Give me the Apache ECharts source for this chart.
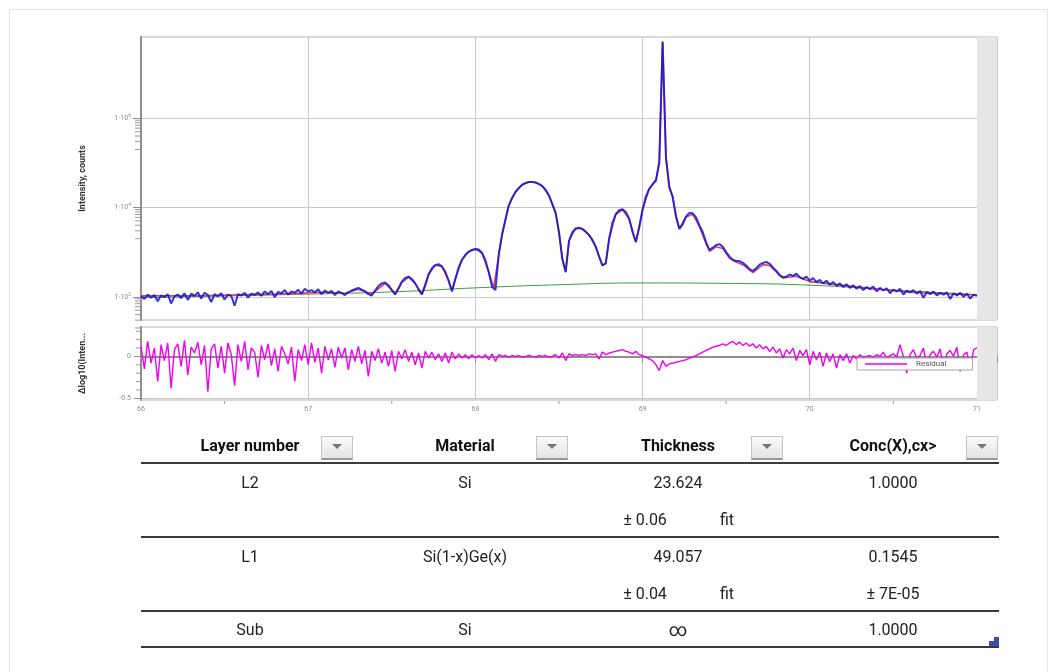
<!DOCTYPE html>
<html>
<head>
<meta charset="utf-8">
<script src="https://cdn.jsdelivr.net/npm/echarts@6/dist/echarts.min.js"></script>
<style>
html, body { margin: 0; padding: 0; background: #fff; }
#frame { position: absolute; left: 9px; top: 9px; width: 1037px; height: 680px; border: 1px solid #e4e4e4; }
#chart { position: absolute; left: 0; top: 0; width: 1055px; height: 672px; }
.cell { position: absolute; font-family: Roboto, 'Noto Sans', sans-serif; font-size: 16px; color: #222; transform: translate(-50%, -50%); white-space: nowrap; }
.head { font-weight: bold; color: #111; }
.rule { position: absolute; left: 141px; width: 858px; height: 2px; background: #3a3a3a; }
.btn { position: absolute; top: 436px; width: 32px; height: 24px; box-sizing: border-box; border: 1px solid #c4c4c4; border-bottom: 2px solid #9a9a9a; background: linear-gradient(#fbfbfb, #e4e4e4); }
.btn:after { content: ''; position: absolute; left: 10px; top: 7px; border-left: 5px solid transparent; border-right: 5px solid transparent; border-top: 5px solid #777; }
.grip { position: absolute; background: #3b4fa8; }
</style>
</head>
<body>
<div id="frame"></div>
<div id="chart"></div>

<div class="cell head" style="left:250px;top:445px">Layer number</div>
<div class="btn" style="left:321px"></div>
<div class="cell head" style="left:465px;top:445px">Material</div>
<div class="btn" style="left:536px"></div>
<div class="cell head" style="left:678px;top:445px">Thickness</div>
<div class="btn" style="left:751px"></div>
<div class="cell head" style="left:893px;top:445px">Conc(X),cx&gt;</div>
<div class="btn" style="left:966px"></div>
<div class="rule" style="top:462px"></div>

<div class="cell" style="left:250px;top:482px">L2</div>
<div class="cell" style="left:465px;top:482px">Si</div>
<div class="cell" style="left:678px;top:482px">23.624</div>
<div class="cell" style="left:893px;top:482px">1.0000</div>
<div class="cell" style="left:645px;top:519px">± 0.06</div>
<div class="cell" style="left:727px;top:519px">fit</div>
<div class="rule" style="top:536px"></div>

<div class="cell" style="left:250px;top:556px">L1</div>
<div class="cell" style="left:465px;top:556px">Si(1-x)Ge(x)</div>
<div class="cell" style="left:678px;top:556px">49.057</div>
<div class="cell" style="left:893px;top:556px">0.1545</div>
<div class="cell" style="left:645px;top:593px">± 0.04</div>
<div class="cell" style="left:727px;top:593px">fit</div>
<div class="cell" style="left:893px;top:593px">± 7E-05</div>
<div class="rule" style="top:610px"></div>

<div class="cell" style="left:250px;top:629px">Sub</div>
<div class="cell" style="left:465px;top:629px">Si</div>
<div class="cell" style="left:678px;top:629px;font-size:18px">∞</div>
<div class="cell" style="left:893px;top:629px">1.0000</div>
<div class="rule" style="top:646px"></div>
<div class="grip" style="left:994px;top:637px;width:5px;height:9px"></div>
<div class="grip" style="left:989px;top:641px;width:10px;height:5px"></div>

<script>
// 2theta scan grid (degrees)
const thetaStart = 66;
const thetaStep = 0.02;

// measured intensity, log10(counts), one value per grid step 66.00 .. 71.00
const measuredLog = [
    2.02, 1.95, 2.05, 1.98, 2.04, 1.90, 2.03, 1.99, 2.06, 1.85,
    2.01, 2.05, 1.97, 2.08, 1.93, 2.07, 2.02, 2.10, 1.96, 2.09,
    2.04, 1.88, 2.06, 2.01, 2.08, 1.94, 2.05, 2.02, 1.80, 2.06,
    2.03, 2.09, 1.98, 2.07, 2.04, 2.10, 2.02, 2.12, 2.06, 2.13,
    1.99, 2.11, 2.08, 2.15, 2.05, 2.12, 2.09, 2.16, 2.07, 2.18,
    2.12, 2.15, 2.10, 2.17, 2.06, 2.14, 2.09, 2.13, 2.04, 2.12,
    2.08, 2.04, 2.10, 2.14, 2.17, 2.20, 2.16, 2.12, 2.06, 2.03,
    2.14, 2.24, 2.30, 2.32, 2.26, 2.15, 2.05, 2.18, 2.34, 2.42,
    2.45, 2.40, 2.30, 2.16, 2.05, 2.25, 2.50, 2.64, 2.71, 2.73,
    2.68, 2.56, 2.36, 2.12, 2.40, 2.66, 2.83, 2.94, 3.01, 3.05,
    3.07, 3.06, 2.98, 2.82, 2.55, 2.22, 2.15, 2.95, 3.40, 3.73,
    4.05, 4.22, 4.35, 4.44, 4.51, 4.55, 4.57, 4.57, 4.56, 4.53,
    4.48, 4.40, 4.27, 4.08, 3.88, 3.45, 2.85, 2.55, 3.25, 3.45,
    3.53, 3.55, 3.52, 3.46, 3.38, 3.28, 3.12, 2.90, 2.70, 2.75,
    3.30, 3.66, 3.85, 3.94, 3.96, 3.90, 3.75, 3.45, 3.23, 3.55,
    3.95, 4.25, 4.42, 4.52, 4.60, 5.00, 7.72, 5.10, 4.45, 4.24,
    3.80, 3.52, 3.62, 3.80, 3.88, 3.87, 3.78, 3.60, 3.45, 3.22,
    3.05, 3.10, 3.16, 3.18, 3.12, 3.00, 2.90, 2.83, 2.80, 2.80,
    2.76, 2.70, 2.62, 2.58, 2.64, 2.72, 2.76, 2.78, 2.74, 2.66,
    2.58, 2.48, 2.44, 2.45, 2.50, 2.47, 2.52, 2.44, 2.40, 2.45,
    2.36, 2.42, 2.33, 2.38, 2.30, 2.36, 2.27, 2.33, 2.25, 2.30,
    2.22, 2.28, 2.20, 2.26, 2.18, 2.24, 2.15, 2.22, 2.17, 2.23,
    2.12, 2.20, 2.14, 2.19, 2.08, 2.16, 2.12, 2.18, 2.05, 2.14,
    2.10, 2.15, 2.07, 2.13, 1.98, 2.11, 2.06, 2.12, 2.03, 2.09,
    2.05, 2.10, 1.95, 2.08, 2.03, 2.09, 2.00, 2.07, 1.96, 2.05,
    2.02
];

// residual, delta log10(intensity), same grid
const residual = [
    0.12, -0.15, 0.18, -0.08, 0.10, -0.30, 0.14, -0.05, 0.16, -0.38,
    0.08, 0.15, -0.12, 0.19, -0.22, 0.11, 0.04, 0.17, -0.10, 0.13,
    -0.42, 0.09, 0.15, -0.14, 0.12, -0.20, 0.16, 0.02, -0.35, 0.14,
    -0.06, 0.18, -0.16, 0.10, 0.05, -0.25, 0.13, -0.04, 0.15, -0.11,
    0.09, -0.18, 0.12, 0.03, -0.09, 0.11, -0.30, 0.08, -0.05, 0.14,
    -0.10, 0.16, -0.07, 0.10, -0.20, 0.12, -0.04, 0.09, -0.13, 0.11,
    -0.02, 0.10, -0.16, 0.08, -0.06, 0.12, -0.09, 0.07, -0.24, 0.06,
    -0.05, 0.09, -0.08, 0.05, -0.12, 0.07, -0.18, 0.06, -0.03, 0.08,
    -0.06, 0.05, -0.10, 0.04, -0.14, 0.06, -0.02, 0.05, -0.04, 0.03,
    -0.06, 0.04, -0.08, 0.05, -0.03, 0.03, -0.02, 0.02, -0.03, 0.02,
    -0.02, 0.01, -0.02, 0.02, -0.04, 0.03, -0.06, 0.02, 0.00, 0.01,
    -0.01, 0.01, 0.00, 0.01, -0.01, 0.00, 0.01, 0.00, -0.01, 0.01,
    0.00, 0.01, -0.01, 0.00, 0.02, -0.02, 0.04, -0.05, 0.03, 0.01,
    0.02, 0.01, 0.02, 0.01, 0.03, 0.02, 0.03, -0.03, 0.05, 0.02,
    0.04, 0.05, 0.06, 0.07, 0.08, 0.06, 0.05, 0.03, 0.06, 0.02,
    0.01, -0.01, -0.03, -0.05, -0.10, -0.17, -0.05, -0.12, -0.09, -0.08,
    -0.07, -0.06, -0.05, -0.04, -0.02, -0.01, 0.01, 0.03, 0.05, 0.07,
    0.09, 0.11, 0.12, 0.13, 0.15, 0.13, 0.16, 0.18, 0.14, 0.17,
    0.13, 0.16, 0.12, 0.15, 0.10, 0.14, 0.09, 0.12, 0.06, 0.11,
    0.04, 0.09, -0.02, 0.08, 0.03, 0.10, -0.05, 0.07, 0.01, 0.08,
    -0.10, 0.06, -0.04, 0.05, -0.12, 0.04, -0.06, 0.03, -0.14, 0.02,
    -0.05, 0.03, -0.08, 0.01, -0.03, 0.02, -0.01, 0.00, 0.01, -0.01,
    0.02, 0.00, 0.05, -0.02, 0.01, 0.03, -0.01, 0.14, 0.00, -0.20,
    0.02, 0.08, -0.02, 0.01, 0.10, -0.12, 0.02, 0.06, -0.01, 0.09,
    -0.15, 0.03, 0.07, 0.00, 0.11, -0.18, 0.02, 0.05, -0.16, 0.08,
    0.10
];

// simulated (fit) curve, [2theta, log10(counts)]
const fitLog = [
    [66.0, 2.02], [66.4, 2.03], [66.8, 2.06], [67.1, 2.10], [67.22, 2.08], [67.30, 2.17],
    [67.38, 2.06], [67.46, 2.30], [67.52, 2.08], [67.56, 2.32], [67.60, 2.44], [67.64, 2.30],
    [67.68, 2.07], [67.72, 2.50], [67.76, 2.71], [67.80, 2.68], [67.84, 2.36], [67.86, 2.14],
    [67.88, 2.40], [67.92, 2.83], [67.96, 3.01], [68.00, 3.07], [68.04, 2.98], [68.08, 2.55],
    [68.11, 2.20], [68.14, 2.95], [68.16, 3.40], [68.18, 3.73], [68.20, 4.05], [68.24, 4.35],
    [68.28, 4.51], [68.32, 4.57], [68.36, 4.56], [68.40, 4.48], [68.44, 4.27], [68.48, 3.88],
    [68.50, 3.45], [68.52, 2.85], [68.54, 2.56], [68.56, 3.25], [68.60, 3.53], [68.64, 3.52],
    [68.68, 3.38], [68.72, 3.12], [68.76, 2.70], [68.78, 2.76], [68.80, 3.30], [68.84, 3.85],
    [68.88, 3.95], [68.92, 3.74], [68.96, 3.22], [69.00, 3.95], [69.04, 4.42], [69.08, 4.62],
    [69.10, 5.05], [69.12, 7.70], [69.14, 5.15], [69.16, 4.47], [69.18, 4.24], [69.20, 3.80],
    [69.22, 3.53], [69.26, 3.79], [69.30, 3.85], [69.34, 3.57], [69.38, 3.19], [69.40, 3.02],
    [69.44, 3.12], [69.48, 3.08], [69.52, 2.86], [69.56, 2.78], [69.60, 2.72], [69.66, 2.54],
    [69.72, 2.72], [69.76, 2.70], [69.84, 2.42], [69.92, 2.46], [70.0, 2.34], [70.3, 2.21],
    [70.6, 2.10], [71.0, 2.04]
];

// background, [2theta, log10(counts)]
const backgroundLog = [
    [66.0, 1.98], [66.5, 2.02], [67.0, 2.06], [67.5, 2.11], [68.0, 2.20], [68.5, 2.27],
    [69.0, 2.31], [69.5, 2.30], [70.0, 2.26], [70.5, 2.15], [71.0, 2.05]
];

const thetaTicks = [66, 67, 68, 69, 70, 71];
const thetaHalfTicks = [66.5, 67.5, 68.5, 69.5, 70.5];
const decadeTicks = [2, 4, 6];
const residualTicks = [-0.5, 0];
const residualMinorTicks = [-0.4, -0.3, -0.2, -0.1, 0.1, 0.2, 0.3];

// minor ticks of the log axis: one decade under each labelled decade
const decadeMinorTicks = [];
decadeTicks.forEach(d => {
    for (let k = 2; k <= 9; k++) decadeMinorTicks.push(d - 1 + Math.log10(k));
});

const onGrid = arr => arr.map((v, i) => [+(thetaStart + i * thetaStep).toFixed(2), v]);

const chart = echarts.init(document.getElementById('chart'));

const labelGrey = '#8c8c8c';
const gridGrey = '#c9c9c9';
const axisGrey = '#8f8f8f';
const X_MIN = 66, X_MAX = 71.12;
const Y_MIN = 1.48, Y_MAX = 7.82;
const R_MIN = -0.52, R_MAX = 0.35;
const shade = {
    silent: true,
    itemStyle: { color: '#e7e7e7' },
    data: [[{ xAxis: 71 }, { xAxis: X_MAX }]]
};

// short tick marks placed through the axes' own scale
function tickSeries(xi, yi, values, vertical, len) {
    return {
        type: 'custom', xAxisIndex: xi, yAxisIndex: yi, silent: true, clip: false,
        data: values.map(v => [v]),
        renderItem: (params, api) => {
            const v = api.value(0);
            const p = vertical ? api.coord([v, yi === 0 ? Y_MIN : R_MIN]) : api.coord([X_MIN, v]);
            const shape = vertical
                ? { x1: p[0], y1: p[1] + 1, x2: p[0], y2: p[1] + 1 + len }
                : { x1: p[0] - 1 - len, y1: p[1], x2: p[0] - 1, y2: p[1] };
            return { type: 'line', shape: shape, style: { stroke: '#9a9a9a', lineWidth: 1 } };
        }
    };
}

const option = {
    animation: false,
    grid: [
        { left: 141, top: 37, width: 856, height: 283, show: true, borderColor: '#b4b4b4', backgroundColor: '#fff' },
        { left: 141, top: 327, width: 856, height: 73, show: true, borderColor: '#b4b4b4', backgroundColor: '#fff' }
    ],
    legend: {
        data: ['Residual'],
        left: 857,
        top: 358,
        backgroundColor: '#fff',
        borderColor: '#a8a8a8',
        borderWidth: 1,
        borderRadius: 0,
        padding: [2, 26, 2, 8],
        icon: 'path://M0,0 H40 V1.5 H0 Z',
        itemWidth: 42,
        itemHeight: 2,
        textStyle: { fontSize: 8, color: '#555', fontFamily: 'Roboto', padding: [0, 0, 0, 4] }
    },
    xAxis: [
        {
            gridIndex: 0, type: 'value', min: X_MIN, max: X_MAX, interval: 1,
            axisLine: { show: false }, axisTick: { show: false }, axisLabel: { show: false },
            splitLine: { show: true, lineStyle: { color: gridGrey } }
        },
        {
            gridIndex: 1, type: 'value', min: X_MIN, max: X_MAX, interval: 1,
            axisLine: { show: true, lineStyle: { color: axisGrey, width: 2 } },
            axisTick: { show: true, length: 6, lineStyle: { color: axisGrey } },
            axisLabel: { customValues: thetaTicks, fontSize: 7, color: labelGrey, margin: 6, fontFamily: 'Roboto' },
            splitLine: { show: true, lineStyle: { color: gridGrey } }
        }
    ],
    yAxis: [
        {
            gridIndex: 0, type: 'value', min: Y_MIN, max: Y_MAX,
            name: 'Intensity, counts', nameLocation: 'middle', nameGap: 54,
            nameTextStyle: { fontSize: 9, fontWeight: 'bold', color: '#333', fontFamily: 'Roboto' },
            axisLine: { show: true, lineStyle: { color: axisGrey, width: 2 } },
            axisTick: { show: true, customValues: decadeTicks, length: 8, lineStyle: { color: axisGrey } },
            axisLabel: {
                customValues: decadeTicks, margin: 10, color: labelGrey,
                formatter: v => '{b|1·10}{s|' + Math.round(v) + '}',
                rich: {
                    b: { fontSize: 7, color: labelGrey, fontFamily: 'Roboto' },
                    s: { fontSize: 5, color: labelGrey, fontFamily: 'Roboto', padding: [0, 0, 5, 0] }
                }
            },
            splitLine: { show: true, lineStyle: { color: gridGrey } }
        },
        {
            gridIndex: 1, type: 'value', min: R_MIN, max: R_MAX,
            name: '\u0394log10(Inten...', nameLocation: 'middle', nameGap: 54,
            nameTextStyle: { fontSize: 9, fontWeight: 'bold', color: '#333', fontFamily: 'Roboto' },
            axisLine: { show: true, lineStyle: { color: axisGrey, width: 2 } },
            axisTick: { show: true, customValues: residualTicks, length: 7, lineStyle: { color: axisGrey } },
            axisLabel: { customValues: residualTicks, fontSize: 7, color: labelGrey, margin: 10, fontFamily: 'Roboto' },
            splitLine: { show: true, lineStyle: { color: gridGrey } }
        }
    ],
    series: [
        {
            name: 'Background', type: 'line', xAxisIndex: 0, yAxisIndex: 0,
            data: backgroundLog, symbol: 'none', smooth: true,
            lineStyle: { color: '#3c9c3c', width: 1 },
            markArea: shade
        },
        {
            name: 'Fit', type: 'line', xAxisIndex: 0, yAxisIndex: 0,
            data: fitLog, symbol: 'none',
            lineStyle: { color: '#e0405a', width: 1.6 }
        },
        {
            name: 'Measured', type: 'line', xAxisIndex: 0, yAxisIndex: 0,
            data: onGrid(measuredLog), symbol: 'none',
            lineStyle: { color: '#1414d2', width: 2, opacity: 0.85 }
        },
        {
            name: 'Residual', type: 'line', xAxisIndex: 1, yAxisIndex: 1,
            data: onGrid(residual), symbol: 'none',
            lineStyle: { color: '#f000f0', width: 1.4 },
            itemStyle: { color: '#f000f0' },
            markArea: shade
        },
        tickSeries(0, 0, decadeMinorTicks, false, 5),
        tickSeries(1, 1, residualMinorTicks, false, 4),
        tickSeries(1, 1, thetaHalfTicks, true, 3)
    ]
};

chart.setOption(option);
</script>
</body>
</html>
